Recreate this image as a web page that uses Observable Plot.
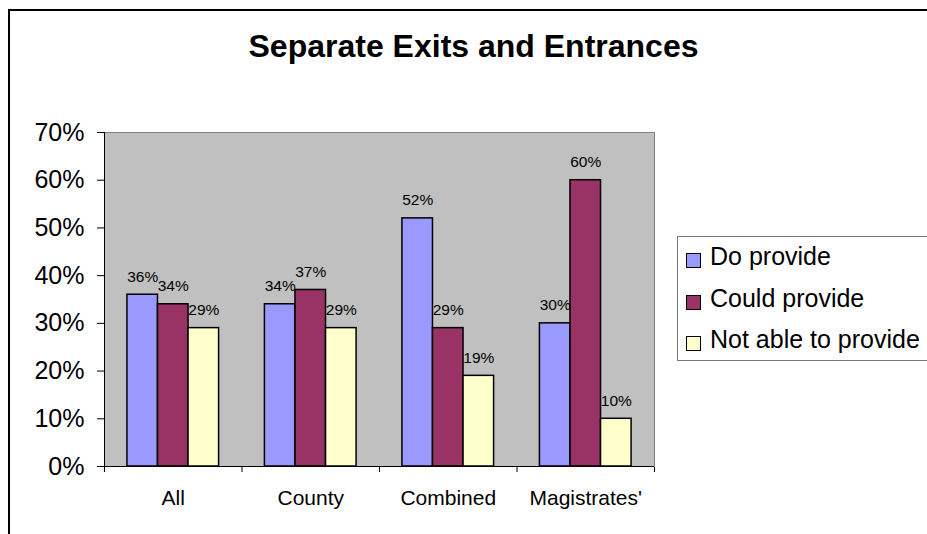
<!DOCTYPE html>
<html>
<head>
<meta charset="utf-8">
<script src="https://cdn.jsdelivr.net/npm/d3@7"></script>
<script src="https://cdn.jsdelivr.net/npm/@observablehq/plot@0.6"></script>
<style>
  html, body { margin: 0; padding: 0; background: #fff; }
  #wrap { position: relative; width: 927px; height: 534px; overflow: hidden; background: #fff;
          font-family: "Liberation Sans", Arial, sans-serif; }
  #outer { position: absolute; left: 8px; top: 9px; width: 1000px; height: 1000px; border: 2px solid #000; }
  #title { position: absolute; left: 0; width: 947px; top: 26px; text-align: center;
           font-weight: bold; font-size: 32px; line-height: 40px; color: #000; }
  #chart { position: absolute; left: 0; top: 0; }
  #legend { position: absolute; left: 677px; top: 236px; width: 300px; height: 125px;
            border: 1px solid #777; background: #fff; box-sizing: border-box; }
  .sw { position: absolute; left: 8px; width: 15px; height: 15px; border: 1.5px solid #000; box-sizing: border-box; }
  .lt { position: absolute; left: 32px; font-size: 25px; line-height: 25px; white-space: nowrap; color: #000; }
</style>
</head>
<body>
<div id="wrap">
  <div id="outer"></div>
  <div id="chart"></div>
  <div id="title"></div>
  <div id="legend"></div>
</div>
<script>
const title = "Separate Exits and Entrances";
const categories = ["All", "County", "Combined", "Magistrates'"];
const series = ["Do provide", "Could provide", "Not able to provide"];
const doProvide = [36, 34, 52, 30];
const couldProvide = [34, 37, 29, 60];
const notAble = [29, 29, 19, 10];
const colors = ["#9999FF", "#993366", "#FFFFCC"];
const yTicks = [0, 10, 20, 30, 40, 50, 60, 70];

const seriesValues = [doProvide, couldProvide, notAble];
const rows = [];
categories.forEach((cat, ci) => {
  series.forEach((s, si) => {
    rows.push({cat, ci, series: s, si, value: seriesValues[si][ci]});
  });
});

const gap = 1.5; // Excel gap width 150%
const nS = series.length;
const bx1 = d => d.ci + (gap / 2 + d.si) / (nS + gap);
const bx2 = d => d.ci + (gap / 2 + d.si + 1) / (nS + gap);
const bxc = d => d.ci + (gap / 2 + d.si + 0.5) / (nS + gap);

const chart = Plot.plot({
  width: 927,
  height: 534,
  marginLeft: 104,
  marginRight: 273,
  marginTop: 132,
  marginBottom: 68,
  style: {fontFamily: "'Liberation Sans', Arial, sans-serif", fontSize: "25px", background: "transparent", color: "#000"},
  x: {domain: [0, categories.length], ticks: d3.range(categories.length + 1), tickFormat: () => "", tickSize: 6, label: null},
  y: {domain: [0, 70], ticks: yTicks, tickFormat: d => d + "%", tickSize: 7, tickPadding: 13, label: null},
  color: {domain: series, range: colors},
  marks: [
    Plot.frame({fill: "#C0C0C0", stroke: "#808080"}),
    Plot.ruleX([0], {stroke: "#000"}),
    Plot.ruleY([0], {stroke: "#000"}),
    Plot.rect(rows, {x1: bx1, x2: bx2, y1: 0, y2: "value", fill: "series", stroke: "#000", strokeWidth: 1.5}),
    Plot.text(rows, {x: bxc, y: "value", text: d => d.value + "%", dy: -13, lineAnchor: "bottom", fontSize: 15.5, fill: "#000"}),
    Plot.text(categories, {x: (d, i) => i + 0.5, frameAnchor: "bottom", dy: 38, lineAnchor: "bottom", text: d => d, fontSize: 21, fill: "#000"})
  ]
});
document.getElementById("chart").appendChild(chart);
document.getElementById("title").textContent = title;

const legend = document.getElementById("legend");
series.forEach((s, i) => {
  const sw = document.createElement("div");
  sw.className = "sw";
  sw.style.top = (16 + i * 41.7) + "px";
  sw.style.background = colors[i];
  legend.appendChild(sw);
  const t = document.createElement("div");
  t.className = "lt";
  t.style.top = (7 + i * 41.7) + "px";
  t.textContent = s;
  legend.appendChild(t);
});
</script>
</body>
</html>
